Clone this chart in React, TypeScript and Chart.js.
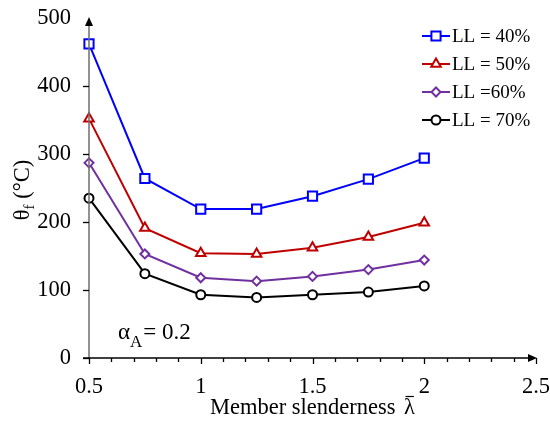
import React, { useEffect, useRef } from "react";
import { Chart, registerables } from "chart.js";

Chart.register(...registerables);

// Member slenderness (x) and fire temperature θf (°C) per load level
const slenderness = [0.5, 0.75, 1, 1.25, 1.5, 1.75, 2];
const ll40 = [462, 264, 219, 219, 238, 263, 294];
const ll50 = [352, 191, 154, 153, 162, 178, 199];
const ll60 = [287, 153, 118, 113, 120, 130, 144];
const ll70 = [235, 124, 93, 89, 93, 97, 106];
const seriesLabels = ["LL = 40%", "LL = 50%", "LL =60%", "LL = 70%"];

const xTickValues = [0.5, 1, 1.5, 2, 2.5];
const yTickValues = [0, 100, 200, 300, 400, 500];
const xMinorStep = 0.1;

const FONT = '"Liberation Serif"';

type Marker = "rect" | "triangle" | "rectRot" | "circle";

function drawMarker(ctx: CanvasRenderingContext2D, style: Marker, x: number, y: number, r: number) {
  ctx.beginPath();
  if (style === "rect") {
    const s = Math.SQRT1_2 * r;
    ctx.rect(x - s, y - s, 2 * s, 2 * s);
  } else if (style === "triangle") {
    for (let k = 0; k < 3; k++) {
      const a = -Math.PI / 2 + (k * 2 * Math.PI) / 3;
      const px = x + Math.cos(a) * r;
      const py = y + Math.sin(a) * r;
      if (k === 0) ctx.moveTo(px, py);
      else ctx.lineTo(px, py);
    }
    ctx.closePath();
  } else if (style === "rectRot") {
    ctx.moveTo(x, y - r);
    ctx.lineTo(x + r, y);
    ctx.lineTo(x, y + r);
    ctx.lineTo(x - r, y);
    ctx.closePath();
  } else {
    ctx.arc(x, y, r, 0, Math.PI * 2);
  }
  ctx.fillStyle = "#ffffff";
  ctx.fill();
  ctx.stroke();
}

const decorations = {
  id: "decorations",
  afterDraw(chart: any) {
    const ctx: CanvasRenderingContext2D = chart.ctx;
    const xs = chart.scales.x;
    const ys = chart.scales.y;
    const { left, right, top, bottom } = chart.chartArea;
    ctx.save();

    // y axis line, ticks and arrow
    ctx.strokeStyle = "#6e6e6e";
    ctx.lineWidth = 1.5;
    ctx.beginPath();
    ctx.moveTo(left, bottom);
    ctx.lineTo(left, top + 4);
    ctx.stroke();
    ctx.strokeStyle = "#000";
    ctx.lineWidth = 1.3;
    for (const v of yTickValues) {
      const py = Math.round(ys.getPixelForValue(v)) + 0.5;
      if (v === yTickValues[yTickValues.length - 1]) continue;
      ctx.beginPath();
      ctx.moveTo(left - 6, py);
      ctx.lineTo(left, py);
      ctx.stroke();
    }
    ctx.fillStyle = "#000";
    ctx.beginPath();
    ctx.moveTo(left, top - 1);
    ctx.lineTo(left - 4, top + 8);
    ctx.lineTo(left + 4, top + 8);
    ctx.closePath();
    ctx.fill();

    // x axis line, major/minor ticks and arrow
    ctx.strokeStyle = "#000";
    ctx.lineWidth = 1.3;
    ctx.beginPath();
    ctx.moveTo(left - 6, bottom);
    ctx.lineTo(right - 4, bottom);
    ctx.stroke();
    const n = Math.round((xs.max - xs.min) / xMinorStep);
    for (let i = 0; i <= n; i++) {
      const v = xs.min + i * xMinorStep;
      const major = xTickValues.some((t) => Math.abs(t - v) < 1e-6);
      const px = Math.round(xs.getPixelForValue(v)) + 0.5;
      ctx.beginPath();
      ctx.moveTo(px, bottom);
      ctx.lineTo(px, bottom + (major ? 6 : 4));
      ctx.stroke();
    }
    ctx.beginPath();
    ctx.moveTo(right + 1, bottom);
    ctx.lineTo(right - 8, bottom - 4);
    ctx.lineTo(right - 8, bottom + 4);
    ctx.closePath();
    ctx.fill();

    // legend
    const lx0 = 422;
    const lx1 = 450;
    chart.data.datasets.forEach((ds: any, i: number) => {
      const ly = 36 + i * 28;
      ctx.strokeStyle = ds.borderColor;
      ctx.lineWidth = 2;
      ctx.beginPath();
      ctx.moveTo(lx0, ly);
      ctx.lineTo(lx1, ly);
      ctx.stroke();
      drawMarker(ctx, ds.pointStyle, (lx0 + lx1) / 2, ly, ds.pointRadius);
      ctx.fillStyle = "#000";
      ctx.font = `19px ${FONT}`;
      ctx.textAlign = "left";
      ctx.textBaseline = "middle";
      ctx.fillText(seriesLabels[i], lx1 + 2, ly + 1);
    });

    // y axis title: θf (°C)
    ctx.save();
    ctx.translate(29, 190);
    ctx.rotate(-Math.PI / 2);
    ctx.fillStyle = "#000";
    ctx.textBaseline = "alphabetic";
    ctx.textAlign = "left";
    ctx.font = `22.5px ${FONT}`;
    const wTheta = ctx.measureText("θ").width;
    ctx.font = `15px ${FONT}`;
    const wSub = ctx.measureText("f").width;
    ctx.font = `22.5px ${FONT}`;
    const wRest = ctx.measureText(" (°C)").width;
    let tx = -(wTheta + wSub + wRest) / 2;
    ctx.fillText("θ", tx, 0);
    tx += wTheta;
    ctx.font = `15px ${FONT}`;
    ctx.fillText("f", tx, 5);
    tx += wSub;
    ctx.font = `22.5px ${FONT}`;
    ctx.fillText(" (°C)", tx, 0);
    ctx.restore();

    // x axis title with barred lambda
    ctx.fillStyle = "#000";
    ctx.font = `22.5px ${FONT}`;
    ctx.textAlign = "left";
    ctx.textBaseline = "alphabetic";
    ctx.fillText("Member slenderness", 210, 414);
    const lamX = 404;
    ctx.fillText("λ", lamX, 414);
    const wLam = ctx.measureText("λ").width;
    ctx.strokeStyle = "#000";
    ctx.lineWidth = 1.2;
    ctx.beginPath();
    ctx.moveTo(lamX + 1.5, 396.5);
    ctx.lineTo(lamX + wLam - 1, 396.5);
    ctx.stroke();

    // αA = 0.2 annotation
    ctx.font = `23px ${FONT}`;
    ctx.fillText("α", 118, 339);
    const wAlpha = ctx.measureText("α").width;
    ctx.font = `17px ${FONT}`;
    ctx.fillText("A", 118 + wAlpha, 347);
    const wA = ctx.measureText("A").width;
    ctx.font = `23px ${FONT}`;
    ctx.fillText("= 0.2", 119 + wAlpha + wA, 339);

    ctx.restore();
  },
};

function points(values: number[]) {
  return slenderness.map((x, i) => ({ x, y: values[i] }));
}

export default function App() {
  const canvasRef = useRef<HTMLCanvasElement | null>(null);

  useEffect(() => {
    document.body.style.margin = "0";
    const canvas = canvasRef.current;
    if (!canvas) return;
    const common = {
      borderWidth: 2,
      pointBorderWidth: 2,
      pointBackgroundColor: "#ffffff",
      fill: false,
      tension: 0,
      clip: false as any,
    };
    const chart = new Chart(canvas, {
      type: "line",
      data: {
        datasets: [
          { ...common, label: seriesLabels[0], data: points(ll40), borderColor: "#0000ff", pointBorderColor: "#0000ff", pointStyle: "rect", pointRadius: 6.5 },
          { ...common, label: seriesLabels[1], data: points(ll50), borderColor: "#c00000", pointBorderColor: "#c00000", pointStyle: "triangle", pointRadius: 5.5 },
          { ...common, label: seriesLabels[2], data: points(ll60), borderColor: "#7030a0", pointBorderColor: "#7030a0", pointStyle: "rectRot", pointRadius: 4.5 },
          { ...common, label: seriesLabels[3], data: points(ll70), borderColor: "#000000", pointBorderColor: "#000000", pointStyle: "circle", pointRadius: 4.5 },
        ] as any,
      },
      options: {
        responsive: false,
        animation: false,
        layout: { padding: { left: 0, top: 18, right: 14, bottom: 0 } },
        plugins: {
          legend: { display: false },
          tooltip: { enabled: false },
        },
        scales: {
          x: {
            type: "linear",
            min: 0.5,
            max: 2.5,
            afterBuildTicks: (scale: any) => {
              scale.ticks = xTickValues.map((value) => ({ value }));
            },
            afterFit: (scale: any) => {
              scale.height = 70;
              scale.paddingLeft = 0;
              scale.paddingRight = 0;
            },
            grid: { display: false, drawTicks: false },
            border: { display: false },
            ticks: {
              autoSkip: false,
              maxRotation: 0,
              padding: 16,
              color: "#000",
              font: { family: FONT, size: 22.5 },
              callback: (v: any) => String(v),
            },
          },
          y: {
            min: 0,
            max: 500,
            afterBuildTicks: (scale: any) => {
              scale.ticks = yTickValues.map((value) => ({ value }));
            },
            afterFit: (scale: any) => {
              scale.width = 89;
              scale.paddingTop = 0;
              scale.paddingBottom = 0;
            },
            grid: { display: false, drawTicks: false },
            border: { display: false },
            ticks: {
              padding: 18,
              color: "#000",
              font: { family: FONT, size: 22.5 },
              callback: (v: any) => String(v),
            },
          },
        },
      },
      plugins: [decorations],
    });
    return () => {
      chart.destroy();
    };
  }, []);

  return (
    <div style={{ width: 550, height: 428, background: "#fff" }}>
      <canvas ref={canvasRef} width={550} height={428} style={{ display: "block", width: 550, height: 428 }} />
    </div>
  );
}
